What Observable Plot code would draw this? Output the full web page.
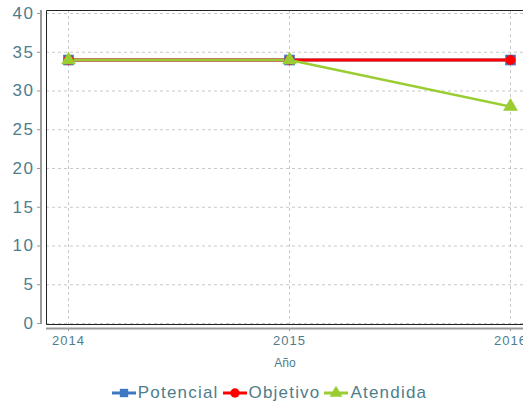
<!DOCTYPE html>
<html><head><meta charset="utf-8">
<script src="https://cdn.jsdelivr.net/npm/d3@7"></script>
<script src="https://cdn.jsdelivr.net/npm/@observablehq/plot@0.6"></script>
<style>
body{margin:0;background:#fff;overflow:hidden;font-family:"Liberation Sans",Arial,sans-serif;}
#legend{display:flex;justify-content:center;gap:4px;font-size:17px;color:#4e7d8c;letter-spacing:1.2px;margin-top:13px;padding-left:16px;}
#legend span{display:inline-flex;align-items:center;}
#legend svg{margin-right:2px;}
#chart g[aria-label="y-axis tick label"] text{letter-spacing:1.5px;}
#chart g[aria-label="x-axis tick label"] text{letter-spacing:1px;}
</style></head><body>
<div id="chart"></div>
<div id="legend"></div>
<script>
const years = [2014, 2015, 2016];
const potencial = [34, 34, 34];
const objetivo = [34, 34, 34];
const atendida = [34, 34, 28];
const seriesNames = ["Potencial", "Objetivo", "Atendida"];
const seriesColors = ["#3d78c4", "#ff0000", "#9acd32"];
const seriesSymbols = ["square", "circle", "triangle"];
const yTicks = [0, 5, 10, 15, 20, 25, 30, 35, 40];

const values = [potencial, objetivo, atendida];
const data = [];
seriesNames.forEach((s, i) => years.forEach((y, j) => data.push({series: s, year: y, value: values[i][j]})));

const teal = "#4e7d8c";
const W = 523, H = 370;
const marks = [
  Plot.gridX(years, {stroke: "#c8c8c8", strokeOpacity: 1, strokeDasharray: "3,3", strokeWidth: 1}),
  Plot.gridY(yTicks, {stroke: "#c8c8c8", strokeOpacity: 1, strokeDasharray: "3,3", strokeWidth: 1}),
  Plot.axisY(yTicks, {anchor: "left", tickSize: 4, dx: -5, stroke: "#999", tickPadding: 3, fontSize: 17, fill: teal, label: null}),
  Plot.axisX(years, {anchor: "bottom", tickSize: 3, dy: 4, stroke: "#999", tickPadding: 4, fontSize: 13, fill: teal, label: null, tickFormat: d => String(d)}),
  Plot.text(["Año"], {frameAnchor: "bottom", dy: 42, fontSize: 12, fill: teal, text: d => d, x: null}),
];
seriesNames.forEach((s, i) => {
  const d = data.filter(r => r.series === s);
  marks.push(Plot.line(d, {x: "year", y: "value", stroke: seriesColors[i], strokeWidth: i === 2 ? 2.5 : 3}));
});
seriesNames.forEach((s, i) => {
  const d = data.filter(r => r.series === s);
  marks.push(Plot.dot(d, {x: "year", y: "value", fill: seriesColors[i], symbol: seriesSymbols[i], r: i === 1 ? 5 : (i === 2 ? 5.5 : 6), stroke: "none"}));
});

const plot = Plot.plot({
  width: W, height: H,
  marginLeft: 46, marginRight: 0, marginTop: 10, marginBottom: 46,
  style: {fontFamily: "Liberation Sans, Arial, sans-serif", background: "#fff", overflow: "visible"},
  x: {domain: [2013.9005, 2016.0588]},
  y: {domain: [-0.13, 40.39]},
  marks
});
const svg = d3.select(plot);
const border = svg.insert("g", "g[aria-label='line']");
border.append("path").attr("d", `M${W + 2},10.5H46.5V324.5H${W + 2}`).attr("fill", "none").attr("stroke", "#222").attr("stroke-width", 1);
svg.append("line").attr("x1", 41).attr("x2", 41).attr("y1", 10).attr("y2", 324).attr("stroke", "#999").attr("stroke-width", 2);
svg.append("line").attr("x1", 46).attr("x2", W).attr("y1", 328.5).attr("y2", 328.5).attr("stroke", "#999").attr("stroke-width", 2);
document.getElementById("chart").appendChild(plot);

const leg = d3.select("#legend");
seriesNames.forEach((s, i) => {
  const sp = leg.append("span");
  const sv = sp.append("svg").attr("width", 24).attr("height", 14);
  sv.append("line").attr("x1", 0).attr("x2", 24).attr("y1", 7).attr("y2", 7).attr("stroke", seriesColors[i]).attr("stroke-width", 3);
  const sym = d3.symbol().type([d3.symbolSquare, d3.symbolCircle, d3.symbolTriangle][i]).size(70);
  sv.append("path").attr("d", sym()).attr("transform", "translate(12,7)").attr("fill", seriesColors[i]);
  sp.append("span").text(s);
});
</script>
</body></html>
